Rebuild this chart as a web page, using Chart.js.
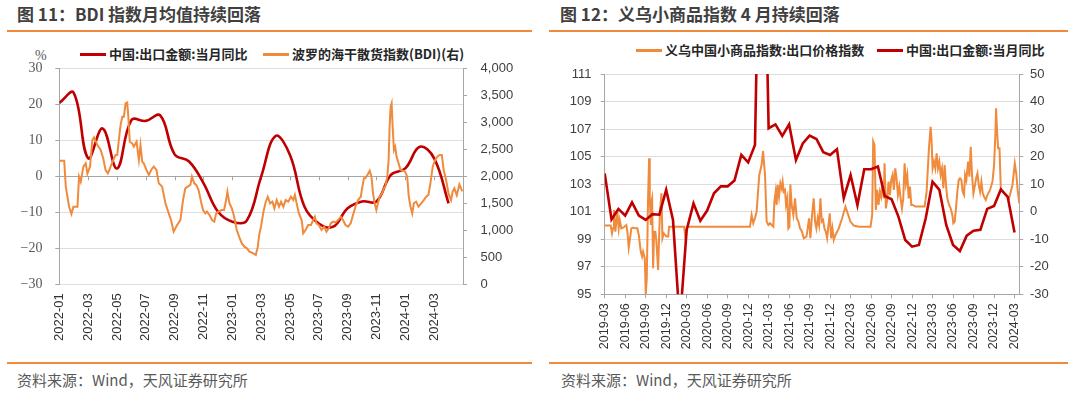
<!DOCTYPE html>
<html><head><meta charset="utf-8">
<script src="https://cdn.jsdelivr.net/npm/chart.js@4.4.1/dist/chart.umd.min.js"></script>
<style>
body{margin:0;background:#fff;}
#wrap{position:relative;width:1080px;height:397px;overflow:hidden;background:#fff;font-family:'Noto Sans CJK SC','Noto Sans',sans-serif;}
.title{position:absolute;top:3px;font-size:17px;font-weight:bold;color:#404040;line-height:22px;white-space:nowrap;}
.rule{position:absolute;height:2px;background:#F08A3C;}
.src{position:absolute;top:371px;font-size:15px;color:#595959;line-height:18px;white-space:nowrap;}
.lg{position:absolute;display:flex;align-items:center;font-size:13px;font-weight:bold;color:#262626;white-space:nowrap;line-height:16px;}
.lg .ln{display:inline-block;width:26px;height:3px;margin-right:3px;}
.unit{position:absolute;font-family:'Liberation Serif',serif;font-size:14px;color:#595959;line-height:16px;}
canvas{position:absolute;}
</style></head>
<body>
<div id="wrap">
  <div class="title" style="left:17px;">图 11：BDI 指数月均值持续回落</div>
  <div class="title" style="left:560px;">图 12：义乌小商品指数 4 月持续回落</div>
  <div class="rule" style="left:7px;width:525px;top:30px;"></div>
  <div class="rule" style="left:549px;width:519px;top:30px;"></div>
  <div class="rule" style="left:7px;width:525px;top:362px;"></div>
  <div class="rule" style="left:549px;width:519px;top:362px;"></div>
  <div class="src" style="left:17px;">资料来源：Wind，天风证券研究所</div>
  <div class="src" style="left:561px;">资料来源：Wind，天风证券研究所</div>

  <div class="lg" style="left:80px;top:46px;"><span class="ln" style="background:#C00000"></span>中国:出口金额:当月同比</div>
  <div class="lg" style="left:263px;top:46px;"><span class="ln" style="background:#F08A3C"></span>波罗的海干散货指数(BDI)(右)</div>
  <div class="unit" style="left:35px;top:48px;">%</div>

  <div class="lg" style="left:636px;top:42px;"><span class="ln" style="background:#F08A3C"></span>义乌中国小商品指数:出口价格指数</div>
  <div class="lg" style="left:877px;top:42px;"><span class="ln" style="background:#C00000"></span>中国:出口金额:当月同比</div>

  <canvas id="cL" width="540" height="295" style="left:0px;top:60px;"></canvas>
  <canvas id="cR" width="532" height="291" style="left:548px;top:64px;"></canvas>
</div>
<script>
// ---------- Figure 11 data ----------
const xLabelsL = ['2022-01','2022-03','2022-05','2022-07','2022-09','2022-11','2023-01','2023-03','2023-05','2023-07','2023-09','2023-11','2024-01','2024-03'];
// China export YoY (%), monthly from 2022-01
const exportYoYL = [20.4,23.2,5.0,13.3,2.2,15.6,15.4,16.9,6.1,4.1,-1.9,-9.8,-12.6,-12.3,-0.1,11.2,5.9,-8.4,-13.1,-14.0,-8.9,-7.0,-7.0,0.4,2.2,8.2,5.0,-7.5];
// BDI: [months since 2022-01, index]
const bdiSeries = [[0,2290],[0.34,2290],[0.45,1808],[0.68,1437],[0.84,1302],[0.98,1437],[1.26,1437],[1.37,1993],[1.49,1900],[1.67,2178],[1.83,2240],[1.95,2050],[2.13,2178],[2.29,2672],[2.41,2720],[2.64,2580],[2.87,2490],[3.05,2330],[3.21,2117],[3.37,2055],[3.56,2178],[3.74,2300],[3.9,2395],[4.02,2395],[4.13,2672],[4.25,2950],[4.37,3105],[4.48,3105],[4.6,3352],[4.71,3365],[4.78,3135],[4.89,2640],[5.06,2610],[5.17,2550],[5.36,2640],[5.52,2300],[5.63,2580],[5.75,2270],[5.86,2240],[6.05,2117],[6.21,2025],[6.37,2117],[6.55,2178],[6.74,2117],[6.9,1870],[7.13,1808],[7.36,1500],[7.59,1313],[7.75,1190],[7.93,974],[8.17,1097],[8.4,1190],[8.58,1560],[8.74,1777],[8.9,1808],[9.09,1840],[9.2,1993],[9.36,1870],[9.5,1840],[9.66,1746],[9.83,1530],[9.97,1375],[10.13,1313],[10.24,1345],[10.42,1283],[10.59,1190],[10.75,1160],[10.88,1313],[11.04,1345],[11.27,1375],[11.43,1375],[11.57,1560],[11.66,1715],[11.8,1500],[11.97,1406],[12.13,1252],[12.31,1005],[12.47,882],[12.66,758],[12.84,697],[13.01,666],[13.19,604],[13.46,574],[13.63,543],[13.77,697],[13.86,912],[13.99,1067],[14.16,1345],[14.32,1530],[14.46,1622],[14.62,1500],[14.78,1530],[14.92,1406],[15.08,1560],[15.24,1437],[15.38,1530],[15.54,1437],[15.7,1560],[15.88,1530],[16.07,1622],[16.23,1560],[16.34,1653],[16.46,1500],[16.62,1313],[16.81,1190],[16.92,944],[17.08,1005],[17.26,1097],[17.45,1097],[17.61,1190],[17.73,1252],[17.84,1128],[18.0,1097],[18.19,1005],[18.37,1067],[18.53,974],[18.69,1036],[18.83,1128],[18.99,1160],[19.16,1145],[19.34,1190],[19.52,1252],[19.68,1190],[19.85,1097],[20.03,1067],[20.21,1128],[20.37,1283],[20.54,1437],[20.72,1560],[20.91,1622],[21.0,1777],[21.13,1962],[21.23,1962],[21.37,2024],[21.53,2104],[21.65,1993],[21.76,1684],[21.87,1500],[21.99,1375],[22.1,1500],[22.22,1622],[22.38,1684],[22.52,1777],[22.61,1808],[22.75,1993],[22.84,2302],[22.91,2919],[22.98,3290],[23.05,3352],[23.12,2919],[23.21,2487],[23.3,2549],[23.39,2364],[23.53,2240],[23.67,2117],[23.83,2104],[23.99,2086],[24.13,1993],[24.24,1622],[24.36,1437],[24.48,1313],[24.59,1500],[24.75,1530],[24.91,1437],[25.1,1500],[25.28,1560],[25.45,1622],[25.6,1653],[25.74,1870],[25.9,2178],[26.07,2302],[26.21,2364],[26.37,2395],[26.53,2395],[26.66,2117],[26.83,1931],[26.99,1684],[27.17,1560],[27.28,1715],[27.4,1777],[27.57,1650],[27.75,1850],[27.95,1720]];

// ---------- Figure 12 data ----------
const xLabelsR = ['2019-03','2019-06','2019-09','2019-12','2020-03','2020-06','2020-09','2020-12','2021-03','2021-06','2021-09','2021-12','2022-03','2022-06','2022-09','2022-12','2023-03','2023-06','2023-09','2023-12','2024-03'];
// China export YoY (%), monthly from 2019-03
const exportYoYR = [13.9,-2.8,1.0,-1.4,3.4,-1.4,-3.0,-0.9,-1.1,7.9,
 -3.0,-40.6,-6.6,3.0,-3.3,0.4,6.7,9.2,9.2,11.3,
 20.6,17.9,24.2,155,30.3,31.7,27.5,31.7,18.8,24.8,
 27.6,26.4,21.6,20.6,22.7,4.9,13.3,2.4,15.4,15.4,
 16.4,5.7,4.5,-1.8,-10.3,-12.7,-12.1,-2.4,10.9,7.9,
 -4.8,-12.1,-14.3,-8.7,-6.9,-6.6,1.0,2.1,8.1,5.4,
 -7.6];
// Yiwu export price index: [months since 2019-03, index]
const yiwuSeries = [[0,100],[0.88,100],[1.07,99.43],[1.22,99.79],[1.36,101.12],[1.56,99.55],[1.7,100.28],[1.85,101.0],[2.05,99.79],[2.2,100.4],[2.44,99.79],[2.69,99.84],[3.17,100.03],[3.32,99.55],[3.52,98.39],[3.71,99.07],[3.9,99.79],[4.15,99.84],[4.49,99.79],[4.78,99.79],[4.99,99.31],[5.28,98.1],[5.47,97.74],[5.62,98.1],[5.87,97.61],[6.01,95.0],[6.16,96.16],[6.35,101.97],[6.5,104.88],[6.6,101.97],[6.75,100.03],[6.84,101.73],[6.94,101.97],[7.09,96.89],[7.23,99.55],[7.42,99.55],[7.57,98.82],[7.82,96.77],[7.97,99.31],[8.11,101.12],[8.31,102.33],[8.45,99.07],[8.65,99.43],[9.04,99.19],[9.29,99.19],[9.43,99.91],[11.63,99.91],[11.83,99.07],[12.03,99.91],[21.27,99.91],[21.51,100.76],[21.75,100.16],[22.0,100.52],[22.24,101.0],[22.63,103.67],[22.97,104.39],[23.18,105.41],[23.47,103.67],[23.71,100.28],[23.96,100.03],[24.2,100.16],[24.44,100.03],[24.69,99.91],[24.84,101.73],[25.03,102.45],[25.17,101.49],[25.32,102.94],[25.52,102.09],[25.72,103.06],[25.91,102.7],[26.05,103.18],[26.2,102.45],[26.4,102.58],[26.55,101.49],[26.74,101.97],[26.89,99.79],[27.04,99.91],[27.18,102.99],[27.37,101.49],[27.62,100.76],[27.87,101.97],[28.11,100.52],[28.36,100.28],[28.6,99.79],[28.89,99.55],[29.14,99.07],[29.53,99.19],[29.72,99.79],[29.92,100.52],[30.11,99.07],[30.36,100.76],[30.6,101.97],[30.8,100.28],[30.99,99.79],[31.19,100.52],[31.38,100.03],[31.58,101.97],[31.78,100.28],[31.97,100.4],[32.17,99.79],[32.36,99.55],[32.56,99.07],[32.76,100.03],[32.95,100.88],[33.15,99.07],[33.34,99.79],[33.54,98.95],[33.78,99.31],[34.27,99.79],[34.76,100.52],[35.25,101.37],[35.49,101.0],[35.98,100.28],[36.47,99.99],[37.2,99.91],[38.92,99.91],[39.16,100.76],[39.31,106.1],[39.5,105.84],[39.7,101.12],[39.89,102.58],[40.09,101.49],[40.29,102.45],[40.48,102.09],[40.68,103.18],[40.87,101.97],[40.97,104.51],[41.17,101.24],[41.36,101.85],[41.56,103.18],[41.76,102.21],[41.95,103.3],[42.15,103.67],[42.34,102.58],[42.54,104.15],[42.73,103.42],[42.93,102.21],[43.13,102.82],[43.32,101.97],[43.52,101.24],[43.71,101.97],[43.91,104.51],[44.1,103.06],[44.3,103.67],[44.5,101.97],[44.69,102.82],[44.89,101.49],[45.08,101.49],[45.52,101.37],[46.25,101.37],[46.84,101.37],[47.13,102.45],[47.47,105.6],[47.72,107.17],[47.86,106.09],[48.01,104.15],[48.21,104.63],[48.4,104.15],[48.6,105.24],[48.79,104.15],[48.99,104.63],[49.18,103.67],[49.38,104.15],[49.58,102.7],[49.77,104.39],[49.97,102.94],[50.16,101.97],[50.41,101.49],[50.65,101.24],[50.9,100.76],[51.04,100.16],[51.24,100.28],[51.43,101.24],[51.63,102.45],[51.83,103.3],[52.02,103.42],[52.22,103.3],[52.41,102.45],[52.61,102.21],[52.76,103.67],[52.95,103.3],[53.2,104.63],[53.39,103.54],[53.59,105.72],[53.78,103.67],[53.98,102.33],[54.17,102.82],[54.37,103.42],[54.57,103.79],[54.76,102.94],[54.96,102.45],[55.15,103.18],[55.35,102.33],[55.54,102.09],[55.79,101.85],[56.03,102.21],[56.42,102.58],[56.77,103.18],[57.01,104.39],[57.21,106.81],[57.3,108.51],[57.45,106.81],[57.6,105.6],[57.8,105.6],[58.0,102.58],[58.5,102.33],[59.2,101.97],[59.7,102.94],[60.04,104.51],[60.25,103.8],[60.46,102.58],[60.7,101.6]];

const RED = '#C00000', ORANGE = '#F08A3C', AXIS = '#a6a6a6', GRID = '#dedede';

const zeroTicks = {
  id: 'zeroTicks',
  beforeDatasetsDraw(chart) {
    const x = chart.scales.x, y = chart.scales.yL, ctx = chart.ctx;
    const y0 = y.getPixelForValue(0);
    ctx.save();
    ctx.strokeStyle = AXIS; ctx.lineWidth = 1;
    x.ticks.forEach(t => {
      if (t.value === 0) return;
      const px = Math.round(x.getPixelForValue(t.value)) + 0.5;
      ctx.beginPath(); ctx.moveTo(px, y0); ctx.lineTo(px, y0 + 4); ctx.stroke();
    });
    ctx.restore();
  }
};

const fixW = w => s => { s.width = w; s.paddingTop = 0; s.paddingBottom = 0; };
const fixH = h => s => { s.height = h; s.paddingLeft = 0; s.paddingRight = 0; };

const common = {
  responsive: false, animation: false, devicePixelRatio: 1,
  plugins: { legend: { display: false }, tooltip: { enabled: false } },
  elements: { point: { radius: 0 } }
};

new Chart(document.getElementById('cL'), {
  type: 'line',
  data: { datasets: [
    { label: '中国:出口金额:当月同比', data: exportYoYL.map((v, i) => ({ x: i, y: v })),
      borderColor: RED, backgroundColor: RED, borderWidth: 2.6, tension: 0.4, yAxisID: 'yL', order: 1 },
    { label: '波罗的海干散货指数(BDI)(右)', data: bdiSeries.map(p => ({ x: p[0], y: p[1] })),
      borderColor: ORANGE, backgroundColor: ORANGE, borderWidth: 2, tension: 0, yAxisID: 'yR', order: 0 }
  ]},
  options: Object.assign({}, common, {
    layout: { padding: { top: 8.3, left: 0, right: 0, bottom: 0 } },
    scales: {
      x: { type: 'linear', min: 0, max: 28,
        afterBuildTicks: s => { s.ticks = xLabelsL.map((_, i) => ({ value: i * 2 })); },
        afterFit: fixH(70.7),
        grid: { display: false, drawTicks: false }, border: { display: false },
        ticks: { autoSkip: false, maxRotation: 90, minRotation: 90, padding: 9,
          font: { family: 'Liberation Sans', size: 13 }, color: '#333',
          callback: v => xLabelsL[v / 2] ?? '' } },
      yL: { position: 'left', min: -30, max: 30,
        ticks: { stepSize: 10, padding: 12.8, font: { family: 'Liberation Serif', size: 14 }, color: '#595959',
          callback: v => v < 0 ? '−' + Math.abs(v) : String(v) },
        grid: { color: c => (c.tick && c.tick.value === 0) ? AXIS : GRID, tickColor: AXIS, tickLength: 4 },
        border: { display: true, color: AXIS },
        afterFit: fixW(59.3) },
      yR: { position: 'right', min: 0, max: 4000,
        ticks: { stepSize: 500, padding: 13.6, font: { family: 'Liberation Sans', size: 13 }, color: '#404040',
          callback: v => v.toLocaleString('en-US') },
        grid: { drawOnChartArea: false, tickColor: AXIS, tickLength: 4 },
        border: { display: true, color: AXIS },
        afterFit: fixW(77) }
    }
  }),
  plugins: [zeroTicks]
});

new Chart(document.getElementById('cR'), {
  type: 'line',
  data: { datasets: [
    { label: '中国:出口金额:当月同比', data: exportYoYR.map((v, i) => ({ x: i, y: v })),
      borderColor: RED, backgroundColor: RED, borderWidth: 2.6, tension: 0, yAxisID: 'yR', order: 0 },
    { label: '义乌中国小商品指数:出口价格指数', data: yiwuSeries.map(p => ({ x: p[0], y: p[1] })),
      borderColor: ORANGE, backgroundColor: ORANGE, borderWidth: 2, tension: 0, yAxisID: 'yL', order: 1 }
  ]},
  options: Object.assign({}, common, {
    layout: { padding: { top: 10, left: 0, right: 0, bottom: 0 } },
    scales: {
      x: { type: 'linear', min: 0, max: 60.7,
        afterBuildTicks: s => { s.ticks = xLabelsR.map((_, i) => ({ value: i * 3 })); },
        afterFit: fixH(60.7),
        grid: { drawOnChartArea: false, drawTicks: true, tickLength: 4, tickColor: AXIS },
        border: { display: true, color: AXIS },
        ticks: { autoSkip: false, maxRotation: 90, minRotation: 90, padding: 5,
          font: { family: 'Liberation Sans', size: 12.5 }, color: '#333',
          callback: v => xLabelsR[v / 3] ?? '' } },
      yL: { position: 'left', min: 95, max: 111,
        ticks: { stepSize: 2, padding: 9.2, font: { family: 'Liberation Sans', size: 13 }, color: '#404040' },
        grid: { color: c => (c.tick && c.tick.value === 95) ? AXIS : GRID, tickColor: AXIS, tickLength: 4 },
        border: { display: true, color: AXIS },
        afterFit: fixW(56.7) },
      yR: { position: 'right', min: -30, max: 50,
        ticks: { stepSize: 10, padding: 6.7, font: { family: 'Liberation Sans', size: 13 }, color: '#404040' },
        grid: { drawOnChartArea: false, tickColor: AXIS, tickLength: 4 },
        border: { display: true, color: AXIS },
        afterFit: fixW(60.7) }
    }
  })
});
</script>
</body></html>
